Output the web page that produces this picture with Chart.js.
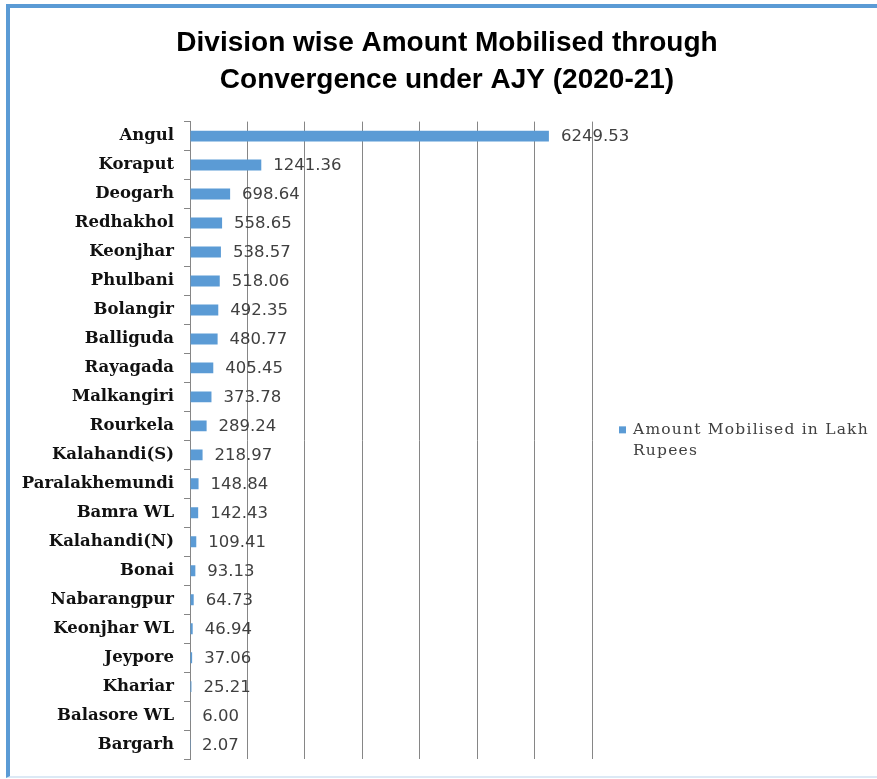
<!DOCTYPE html>
<html lang="en">
<head>
<meta charset="UTF-8">
<title>Division wise Amount Mobilised through Convergence under AJY (2020-21)</title>
<script src="https://cdn.jsdelivr.net/npm/chart.js"></script>
<style>
  html, body { margin: 0; padding: 0; background: #fff; }
  .frame {
    position: absolute; left: 6px; top: 4px; width: 871px; height: 774px;
    box-sizing: border-box;
    border-left: 4px solid #5b9bd5;
    border-top: 4px solid #5b9bd5;
    border-bottom: 2px solid #dce9f5;
  }
  .chart-box { position: absolute; left: 0; top: 0; width: 877px; height: 779px; }
</style>
</head>
<body>
<div class="frame"></div>
<div class="chart-box"><canvas id="ajy-chart"></canvas></div>
<script>
// data
const divisions = [
  'Angul', 'Koraput', 'Deogarh', 'Redhakhol', 'Keonjhar', 'Phulbani', 'Bolangir',
  'Balliguda', 'Rayagada', 'Malkangiri', 'Rourkela', 'Kalahandi(S)', 'Paralakhemundi',
  'Bamra WL', 'Kalahandi(N)', 'Bonai', 'Nabarangpur', 'Keonjhar WL', 'Jeypore',
  'Khariar', 'Balasore WL', 'Bargarh'
];
const amounts = [
  6249.53, 1241.36, 698.64, 558.65, 538.57, 518.06, 492.35,
  480.77, 405.45, 373.78, 289.24, 218.97, 148.84,
  142.43, 109.41, 93.13, 64.73, 46.94, 37.06,
  25.21, 6.00, 2.07
];
const seriesName = 'Amount Mobilised in Lakh Rupees';
const titleLines = ['Division wise Amount Mobilised through', 'Convergence under AJY (2020-21)'];
const xMax = 7000;
const xStep = 1000;

const barBlue = '#5b9bd5';
const gridGrey = '#868686';

// numbers printed at the end of each bar
const valueLabels = {
  id: 'valueLabels',
  afterDatasetsDraw(chart) {
    const ctx = chart.ctx;
    const meta = chart.getDatasetMeta(0);
    ctx.save();
    ctx.font = '16.5px "DejaVu Sans"';
    ctx.fillStyle = '#404040';
    ctx.textBaseline = 'middle';
    meta.data.forEach((bar, i) => {
      ctx.fillText(amounts[i].toFixed(2), bar.x + 12, bar.y + 1);
    });
    ctx.restore();
  }
};

// legend on the right, wrapped on two lines like the original
const sideLegend = {
  id: 'sideLegend',
  afterDraw(chart) {
    const ctx = chart.ctx;
    const area = chart.chartArea;
    const words = chart.data.datasets[0].label.split(' ');
    const lines = [words.slice(0, 4).join(' '), words.slice(4).join(' ')];
    const x = area.right + 27;
    const mid = (area.top + area.bottom) / 2;
    ctx.save();
    ctx.fillStyle = chart.data.datasets[0].backgroundColor;
    ctx.fillRect(x, mid - 14, 7, 7);
    ctx.font = '15.5px "DejaVu Serif"';
    ctx.letterSpacing = '1.2px';
    ctx.fillStyle = '#404040';
    ctx.textBaseline = 'middle';
    lines.forEach((t, i) => ctx.fillText(t, x + 14, mid - 10 + i * 21));
    ctx.restore();
  }
};

new Chart(document.getElementById('ajy-chart'), {
  type: 'bar',
  data: {
    labels: divisions,
    datasets: [{
      label: seriesName,
      data: amounts,
      backgroundColor: barBlue,
      borderWidth: 0,
      barPercentage: 0.47,
      categoryPercentage: 0.8
    }]
  },
  options: {
    indexAxis: 'y',
    responsive: true,
    maintainAspectRatio: false,
    animation: false,
    layout: { padding: { left: 17, right: 0, top: 0, bottom: 19 } },
    plugins: {
      legend: { display: false },
      tooltip: { enabled: false },
      title: {
        display: true,
        text: titleLines,
        color: '#000',
        font: { family: '"Liberation Sans", Arial, sans-serif', size: 28, weight: 'bold', lineHeight: 1.35 },
        padding: { top: 24, bottom: 22 }
      }
    },
    scales: {
      x: {
        min: 0,
        max: xMax,
        ticks: { display: false, stepSize: xStep },
        grid: { color: gridGrey, drawTicks: false },
        border: { display: false }
      },
      y: {
        ticks: {
          color: '#111',
          padding: 10,
          font: { family: '"DejaVu Serif", serif', size: 16.5, weight: 'bold' }
        },
        grid: { drawOnChartArea: false, color: gridGrey, tickLength: 6 },
        border: { color: gridGrey },
        afterFit(scale) { scale.width = 173; }
      },
      yRight: {
        type: 'category',
        position: 'right',
        ticks: { display: false },
        grid: { display: false },
        border: { display: false },
        afterFit(scale) { scale.width = 285; }
      }
    }
  },
  plugins: [valueLabels, sideLegend]
});
</script>
</body>
</html>
